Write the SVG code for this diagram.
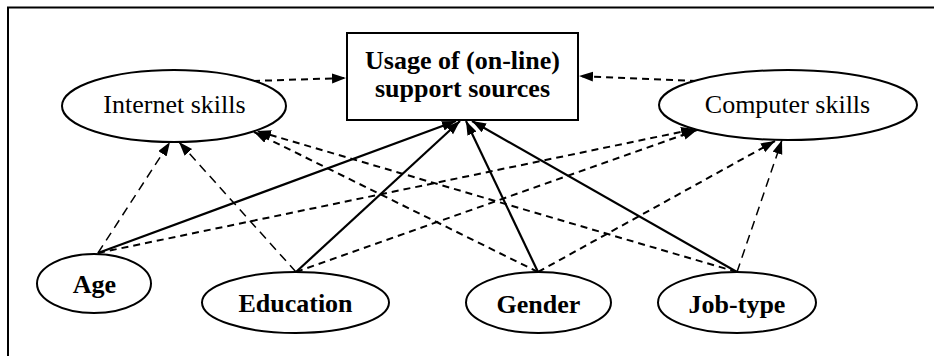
<svg xmlns="http://www.w3.org/2000/svg" width="934" height="356" viewBox="0 0 934 356">
<style>
.n{fill:#fff;stroke:#000;stroke-width:2}
.t{font-size:26px;fill:#000;text-anchor:middle}
.b{font-weight:bold}
.s{stroke:#000;stroke-width:2.2;fill:none}
.d{stroke:#000;stroke-width:2;fill:none;stroke-dasharray:7,5}
.dl{stroke:#000;stroke-width:1.5;fill:none;stroke-dasharray:9,6}
</style>
<defs>
<marker id="a" markerUnits="userSpaceOnUse" markerWidth="15" markerHeight="12" refX="14" refY="5" orient="auto">
<path d="M0,0 L14,5 L0,10 z" fill="#000"/>
</marker>
</defs>
<path d="M8,356 V7.5 H934" fill="none" stroke="#000" stroke-width="2"/>
<g id="connectors">
<line class="s" x1="98" y1="253" x2="456" y2="121" marker-end="url(#a)"/>
<line class="s" x1="296" y1="272" x2="460" y2="121" marker-end="url(#a)"/>
<line class="s" x1="538" y1="272" x2="466" y2="121" marker-end="url(#a)"/>
<line class="s" x1="737" y1="272" x2="472" y2="121" marker-end="url(#a)"/>
<line class="d" x1="253" y1="81" x2="346" y2="78" marker-end="url(#a)"/>
<line class="d" x1="697" y1="81" x2="579" y2="76" marker-end="url(#a)"/>
<line class="dl" x1="98" y1="253" x2="170" y2="142" marker-end="url(#a)"/>
<line class="dl" x1="296" y1="272" x2="179" y2="142" marker-end="url(#a)"/>
<line class="d" x1="538" y1="272" x2="254" y2="132" marker-end="url(#a)"/>
<line class="d" x1="737" y1="272" x2="257" y2="131" marker-end="url(#a)"/>
<line class="d" x1="98" y1="253" x2="695" y2="129" marker-end="url(#a)"/>
<line class="d" x1="296" y1="272" x2="697" y2="130" marker-end="url(#a)"/>
<line class="d" x1="538" y1="272" x2="775" y2="141" marker-end="url(#a)"/>
<line class="dl" x1="737" y1="272" x2="782" y2="140" marker-end="url(#a)"/>
</g>
<g font-family="Liberation Serif, Times New Roman, serif">
<g id="usage">
<rect class="n" x="347" y="33" width="231" height="87"/>
<text class="t b" x="462.5" y="69">Usage of (on-line)</text>
<text class="t b" x="462.5" y="97">support sources</text>
</g>
<g id="internet">
<ellipse class="n" cx="174" cy="106" rx="112" ry="36"/>
<text class="t" x="174.5" y="113">Internet skills</text>
</g>
<g id="computer">
<ellipse class="n" cx="788" cy="105" rx="129" ry="35"/>
<text class="t" x="787.5" y="113">Computer skills</text>
</g>
<g id="age">
<ellipse class="n" cx="94" cy="283.5" rx="57" ry="29.5"/>
<text class="t b" x="94.5" y="293">Age</text>
</g>
<g id="education">
<ellipse class="n" cx="295.5" cy="302.5" rx="93.5" ry="30.5"/>
<text class="t b" x="295.5" y="312">Education</text>
</g>
<g id="gender">
<ellipse class="n" cx="538.5" cy="302.5" rx="72.5" ry="30.5"/>
<text class="t b" x="538.5" y="313">Gender</text>
</g>
<g id="jobtype">
<ellipse class="n" cx="737" cy="302.5" rx="79" ry="30.5"/>
<text class="t b" x="737" y="313">Job-type</text>
</g>
</g>
</svg>
